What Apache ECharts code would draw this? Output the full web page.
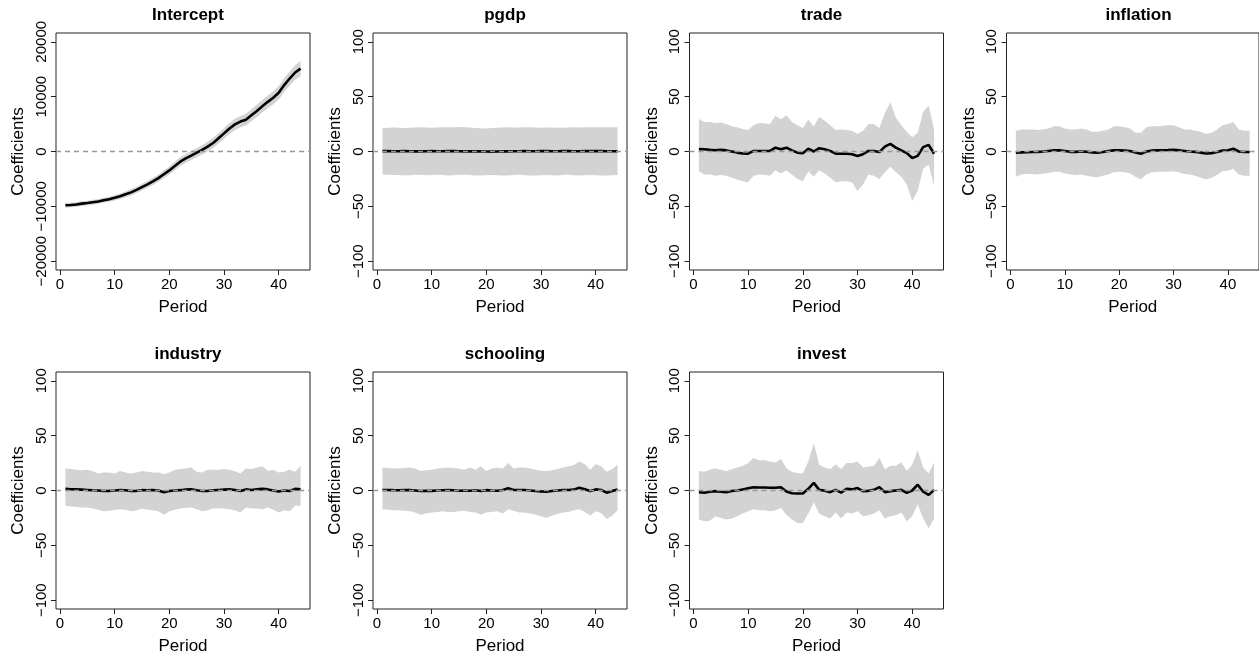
<!DOCTYPE html>
<html>
<head>
<meta charset="utf-8">
<script src="https://cdn.jsdelivr.net/npm/echarts@6/dist/echarts.min.js"></script>
<style>
    html, body { margin: 0; padding: 0; background: #fff; }
    #main { width: 1259px; height: 658px; }
</style>
</head>
<body>
<div id="main"></div>
<script>
// 时期
var periods = [1, 2, 3, 4, 5, 6, 7, 8, 9, 10, 11, 12, 13, 14, 15, 16, 17, 18, 19, 20, 21, 22,
    23, 24, 25, 26, 27, 28, 29, 30, 31, 32, 33, 34, 35, 36, 37, 38, 39, 40, 41, 42, 43, 44];
var xTicks = [0, 10, 20, 30, 40];
var coefTicks = [-100, -50, 0, 50, 100];
var interceptTicks = [-20000, -10000, 0, 10000, 20000];

// Intercept
var interceptCoef = [-9800, -9750, -9650, -9500, -9400, -9250, -9100, -8900, -8700, -8450, -8150, -7800, -7450, -7000, -6500,
    -6000, -5450, -4850, -4150, -3450, -2650, -1850, -1250, -750, -200, 300, 900, 1550, 2400, 3300,
    4200, 4950, 5450, 5800, 6600, 7400, 8250, 9050, 9800, 10700, 12100, 13300, 14400, 15100];
var interceptUpper = [-9350, -9320, -9230, -9080, -8980, -8820, -8660, -8450, -8230, -7960, -7640, -7270, -6900, -6430, -5900,
    -5380, -4800, -4170, -3450, -2720, -1890, -1060, -450, 70, 640, 1160, 1780, 2450, 3330, 4260,
    5190, 5970, 6490, 6860, 7680, 8500, 9380, 10210, 10990, 11920, 13360, 14600, 15740, 16480];
var interceptLower = [-10250, -10180, -10070, -9920, -9820, -9680, -9540, -9350, -9170, -8940, -8660, -8330, -8000, -7570, -7100,
    -6620, -6100, -5530, -4850, -4180, -3410, -2640, -2050, -1570, -1040, -560, 20, 650, 1470, 2340,
    3210, 3930, 4410, 4740, 5520, 6300, 7120, 7890, 8610, 9480, 10840, 12000, 13060, 13720];

// pgdp
var pgdpCoef = [0.3, 0.3, 0.2, 0.2, 0.3, 0.2, 0.1, 0.1, 0.2, 0.3, 0.2, 0.2, 0.3, 0.3, 0.2, 0.1, 0.1, 0.2, 0.1, 0, -0.1, 0,
    0.1, 0.1, 0.2, 0.2, 0.3, 0.2, 0.2, 0.3, 0.3, 0.2, 0.2, 0.3, 0.3, 0.2, 0.2, 0.3, 0.3, 0.3, 0.3, 0.2, 0.2, 0.2];
var pgdpUpper = [21.5, 21.6, 21.8, 21.7, 21.5, 21.6, 21.9, 22.0, 21.8, 21.7, 21.9, 22.1, 22.0, 22.2, 22.3, 22.1, 21.8, 21.5, 21.2, 21.0, 21.4, 21.7,
    21.9, 22.0, 21.8, 21.9, 22.2, 22.0, 21.8, 21.7, 21.8, 21.9, 21.7, 21.6, 21.8, 22.0, 21.8, 22.1, 22.0, 22.2, 22.1, 22.0, 22.1, 22.0];
var pgdpLower = [-21.0, -21.2, -21.4, -21.5, -21.8, -21.6, -21.3, -21.5, -21.7, -21.4, -21.2, -21.5, -21.8, -21.6, -21.3, -21.1, -21.4, -21.8, -21.9, -21.6, -21.4, -21.7,
    -21.9, -21.8, -21.5, -21.3, -21.6, -21.8, -21.9, -21.7, -21.4, -21.6, -21.8, -21.5, -21.3, -21.6, -21.8, -21.6, -21.4, -21.7, -21.9, -21.8, -21.6, -21.5];

// trade
var tradeCoef = [2.2, 2, 1.5, 1.2, 1.5, 1, 0, -1, -1.8, -2, 0.5, 0.5, 0.5, 0.5, 3.5, 2, 3.5, 1, -1, -1.5, 2.5, 0,
    3, 2, 0.5, -2, -2, -2, -2.5, -4, -2.5, 0.5, 0.5, -0.5, 4.5, 7, 3.5, 1, -1.5, -6, -4, 4, 6, -2];
var tradeUpper = [29.7, 27, 27, 26, 26.5, 25, 23, 22, 20.5, 19.5, 24, 26, 25.5, 25, 32.5, 29.5, 33, 27, 24, 21.5, 29, 23,
    31.5, 28, 24, 19.5, 20, 19.5, 19, 16, 19, 25, 25, 21.5, 35, 45, 31, 24, 18, 13, 17, 36, 42, 20];
var tradeLower = [-18, -21, -21, -22, -21.5, -22, -24, -25.5, -27, -28, -22, -21, -21.5, -22, -17, -20, -17, -21, -25, -27, -18, -23,
    -17, -20, -24, -28, -27, -27, -28, -36, -30, -21, -22, -25, -19, -14, -19, -23, -30, -45, -36, -15.5, -12, -31];

// inflation
var inflationCoef = [-1, -0.8, -0.7, -0.5, -0.3, 0, 0.5, 1, 1, 0.5, -0.3, -0.3, 0, -0.2, -0.8, -1, -0.5, 0.5, 1, 1, 0.8, 0.5,
    -1, -2, 0, 0.8, 1, 1.2, 1.3, 1.5, 1, 0.5, 0, -0.3, -1, -1.8, -1.5, -0.5, 0.8, 1.2, 2.5, 0, -0.5, -0.5];
var inflationUpper = [19, 20, 20, 20, 19.5, 20, 21, 23, 23, 21, 20, 20, 21, 20, 18, 18, 19, 20, 23, 23, 22, 21,
    17, 17, 22, 23, 23, 23.5, 24, 24, 22, 20, 20, 19, 18, 16, 17, 20, 24, 25, 27, 20, 19, 19];
var inflationLower = [-23, -21, -20.5, -20.5, -21, -20, -19.5, -18.5, -18.5, -20, -21, -21.5, -21, -22, -23, -23.5, -22, -21, -19, -18.5, -19, -20,
    -23, -25.5, -21, -19, -18.5, -18.5, -18.5, -18, -19, -20.5, -21, -22, -24, -25.5, -24, -21.5, -18, -17.5, -16, -21, -22, -22];

// industry
var industryCoef = [1.5, 1.2, 1, 0.8, 0.5, 0.2, 0, -0.5, -0.3, 0, 0.5, 0.2, -0.5, -0.3, 0.3, 0.2, 0.5, 0, -1.5, -0.5, 0, 0.3,
    0.8, 1.2, 0.2, -0.5, -0.5, 0.2, 0.5, 0.8, 1, 0.5, -0.5, 1, 0.5, 1, 1.5, 1, 0, -1, 0, -0.5, 1.5, 1];
var industryUpper = [20, 19.5, 19, 18.5, 18.8, 17.5, 15.6, 16.5, 16.5, 15.6, 17.8, 16.5, 15.6, 16.5, 17.8, 17, 16.5, 16.5, 14.7, 16.5, 18.8, 19.5,
    20, 21, 17, 16.5, 18.8, 18.8, 19, 19.7, 18.8, 17.5, 15.6, 20, 19.7, 21, 22, 18, 18.8, 16.5, 17, 18.8, 17, 22.5];
var industryLower = [-14, -14.5, -15, -15.5, -15.6, -16.5, -17.5, -18.8, -18.5, -17.8, -17, -17.5, -18.8, -18, -16.5, -17.5, -18, -19, -22, -18.8, -17.5, -16.5,
    -16, -15.6, -17, -18.8, -18, -16.5, -16.5, -16.5, -17, -18, -20, -15.6, -16.5, -16.5, -17, -15.6, -17.5, -20, -18, -18.8, -14, -14];

// schooling
var schoolingCoef = [0.5, 0.5, 0.3, 0.2, 0.3, 0.3, 0, -0.5, -0.3, -0.3, 0, 0.2, 0.3, 0.2, -0.2, 0, -0.2, 0.3, -0.5, 0.3, 0, -0.2,
    0.5, 2, 0.5, 0.5, 0.5, 0, -0.5, -0.8, -1, -0.5, 0, 0.5, 0.5, 0.8, 2.5, 1.2, -0.5, 1, 0.5, -2, -0.5, 1];
var schoolingUpper = [21, 20.5, 20.3, 20, 20.5, 21, 20, 17.8, 18.5, 19, 20, 20.5, 21, 20.5, 20, 18.8, 21, 18.8, 22, 17.8, 20, 21,
    20, 25, 20, 21, 21, 20, 19, 18, 17.8, 18.5, 19.5, 21, 22, 23, 26.5, 24, 18.8, 24, 22, 17, 19.5, 23.4];
var schoolingLower = [-17, -17.5, -18, -18, -18.5, -19, -20, -22, -21, -20, -19.5, -19, -19.5, -19.5, -19, -18.5, -19.5, -20, -22, -20, -19.5, -19,
    -21, -17, -18.5, -20, -20, -21, -22, -23.5, -25, -23, -21.5, -20, -19.5, -18, -17, -19.5, -22.8, -19, -20.5, -26, -23, -18];

// invest
var investCoef = [-1.5, -2, -1.2, -0.6, -1.2, -1.5, -0.5, 0, 1, 2, 3, 2.8, 2.8, 2.5, 2.5, 3, -1, -2.5, -2.8, -2.8, 1.5, 6.9,
    0.6, -0.3, -1.5, 0.6, -1.9, 1.5, 1, 2.2, -0.6, -0.3, 0.6, 3.1, -1.5, -0.6, 0, 0.6, -2.2, 0, 5.3, -1, -4, 0.6];
var investUpper = [17.8, 17, 18.8, 20.3, 18.8, 17.8, 19.4, 21, 22.5, 25, 29.7, 27.5, 27.5, 26.5, 25.6, 28.7, 20.3, 17, 16, 15.6, 26.5, 43,
    23.4, 21, 19.4, 24, 19.4, 25, 25, 26.5, 21, 21.9, 22.5, 29.7, 19.4, 22.5, 22.5, 25.6, 18, 23.4, 37, 21, 15.6, 25.6];
var investLower = [-26.5, -28, -27.5, -23.4, -25, -26.5, -25.6, -23.4, -21, -18.8, -17, -18, -18, -18.8, -18, -16, -22, -26.5, -29.7, -29.7, -21, -11,
    -21, -23.4, -25.6, -20, -25.6, -20, -21, -18.8, -23.4, -22.5, -21, -18, -25.6, -23.4, -22.5, -20, -28, -23.4, -12.5, -25.6, -34.4, -25.6];

var panels = [
    { name: 'Intercept', coef: interceptCoef, upper: interceptUpper, lower: interceptLower, ticks: interceptTicks, min: -21600, max: 21600 },
    { name: 'pgdp', coef: pgdpCoef, upper: pgdpUpper, lower: pgdpLower, ticks: coefTicks, min: -108, max: 108 },
    { name: 'trade', coef: tradeCoef, upper: tradeUpper, lower: tradeLower, ticks: coefTicks, min: -108, max: 108 },
    { name: 'inflation', coef: inflationCoef, upper: inflationUpper, lower: inflationLower, ticks: coefTicks, min: -108, max: 108 },
    { name: 'industry', coef: industryCoef, upper: industryUpper, lower: industryLower, ticks: coefTicks, min: -108, max: 108 },
    { name: 'schooling', coef: schoolingCoef, upper: schoolingUpper, lower: schoolingLower, ticks: coefTicks, min: -108, max: 108 },
    { name: 'invest', coef: investCoef, upper: investUpper, lower: investLower, ticks: coefTicks, min: -108, max: 108 }
];

var lefts = [56, 373, 689.5, 1006.5];
var tops = [33, 372];
var boxW = 254, boxH = 237;
var font = 'Liberation Sans, Arial, Helvetica, sans-serif';

function pairs(ys) {
    return periods.map(function (p, k) { return [p, ys[k]]; });
}

// R 风格的负号, 不要千分位
function fmtNum(v) {
    return v < 0 ? '\u2212' + Math.abs(v) : String(v);
}

// 置信区间多边形, 用坐标轴换算每个点
function bandRenderer(p) {
    return function (params, api) {
        if (params.dataIndex !== 0) return null;
        var pts = [];
        for (var k = 0; k < periods.length; k++) pts.push(api.coord([periods[k], p.upper[k]]));
        for (var k = periods.length - 1; k >= 0; k--) pts.push(api.coord([periods[k], p.lower[k]]));
        return {
            type: 'polygon',
            shape: { points: pts },
            style: { fill: '#d3d3d3', stroke: null }
        };
    };
}

var option = { animation: false, backgroundColor: '#fff', title: [], grid: [], xAxis: [], yAxis: [], series: [] };

panels.forEach(function (p, i) {
    var left = lefts[i % 4], top = tops[Math.floor(i / 4)];
    option.grid.push({
        left: left, top: top, width: boxW, height: boxH,
        show: true, borderColor: '#222', borderWidth: 1, backgroundColor: 'transparent'
    });
    option.title.push({
        text: p.name, left: left + boxW / 2, top: top - 31, textAlign: 'center',
        textStyle: { fontFamily: font, fontSize: 17, fontWeight: 'bold', color: '#000' }
    });
    option.xAxis.push({
        type: 'value', gridIndex: i, min: -0.72, max: 45.72,
        name: 'Period', nameLocation: 'middle', nameGap: 29,
        nameTextStyle: { fontFamily: font, fontSize: 17, color: '#000' },
        axisLine: { show: false, onZero: false },
        axisTick: { show: true, inside: false, length: 5, customValues: xTicks, lineStyle: { color: '#222' } },
        axisLabel: { customValues: xTicks, margin: 7, fontFamily: font, fontSize: 15, color: '#000', formatter: fmtNum },
        splitLine: { show: false }
    });
    option.yAxis.push({
        type: 'value', gridIndex: i, min: p.min, max: p.max,
        name: 'Coefficients', nameLocation: 'middle', nameGap: 29,
        nameTextStyle: { fontFamily: font, fontSize: 17, color: '#000' },
        axisLine: { show: false, onZero: false },
        axisTick: { show: true, inside: false, length: 5, customValues: p.ticks, lineStyle: { color: '#222' } },
        axisLabel: { customValues: p.ticks, rotate: 90, margin: 7, fontFamily: font, fontSize: 15, color: '#000', formatter: fmtNum },
        splitLine: { show: false }
    });

    option.series.push({
        type: 'custom', xAxisIndex: i, yAxisIndex: i, silent: true, z: 1,
        data: periods.map(function (x, k) { return [x, p.lower[k], p.upper[k]]; }),
        encode: { x: 0, y: [1, 2] },
        renderItem: bandRenderer(p)
    });
    option.series.push({
        type: 'line', xAxisIndex: i, yAxisIndex: i, data: pairs(p.coef), symbol: 'none',
        lineStyle: { color: '#000', width: 2.6 }, z: 3, silent: true,
        markLine: {
            silent: true, symbol: 'none', label: { show: false },
            lineStyle: { type: [5, 4], color: '#999', width: 1.3 },
            data: [{ yAxis: 0 }]
        }
    });
});

var myChart = echarts.init(document.getElementById('main'));
myChart.setOption(option);
</script>
</body>
</html>
